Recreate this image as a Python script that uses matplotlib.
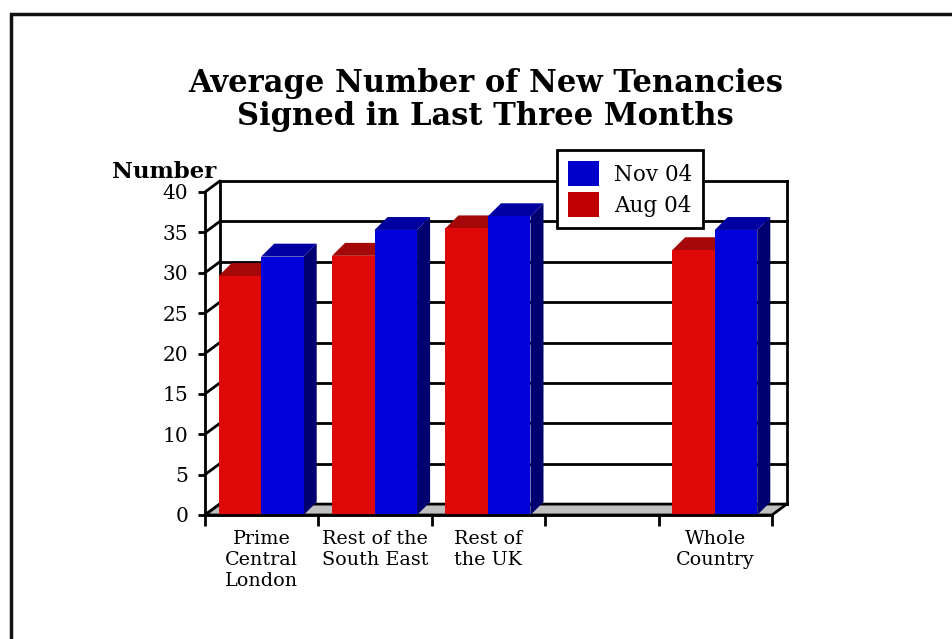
import numpy as np
import matplotlib
matplotlib.use("Agg")
import matplotlib.pyplot as plt
from matplotlib.patches import Polygon, Rectangle, Patch

categories = ["Prime\nCentral\nLondon", "Rest of the\nSouth East", "Rest of\nthe UK", "", "Whole\nCountry"]
aug_04 = [29.6, 32.1, 35.5, None, 32.8]
nov_04 = [32.0, 35.3, 37.0, None, 35.3]
series_names = ["Aug 04", "Nov 04"]
yticks = [0, 5, 10, 15, 20, 25, 30, 35, 40]

plt.rcParams['font.family'] = ['DejaVu Serif']

W, H = 952, 639
fig = plt.figure(figsize=(W / 100, H / 100), dpi=100)
ax = fig.add_axes([205 / W, 1 - 515 / H, 567 / W, 323 / H])
ax.set_xlim(0, 5)
ax.set_ylim(0, 40)

dx, dy = 0.13, 1.35     # wall depth offset, data units
bdx, bdy = 0.115, 1.6   # bar depth offset
lw = 2

# back wall gridlines and side diagonals
for v in yticks:
    ax.plot([dx, 5 + dx], [v + dy, v + dy], color='black', lw=lw, clip_on=False, zorder=1)
    ax.plot([0, dx], [v, v + dy], color='black', lw=lw, clip_on=False, zorder=1)
ax.plot([dx, dx], [dy, 40 + dy], color='black', lw=lw, clip_on=False, zorder=1)
ax.plot([5 + dx, 5 + dx], [dy, 40 + dy], color='black', lw=lw, clip_on=False, zorder=1)

# floor
ax.add_patch(Polygon([(0, 0), (5, 0), (5 + dx, dy), (dx, dy)], closed=True,
                     facecolor='#c0c0c0', edgecolor='black', lw=lw, clip_on=False, zorder=2))

# bars
face = {"Aug 04": ('#dd0808', '#a50808', '#700000'),
        "Nov 04": ('#0000d8', '#0000a0', '#000070')}
bw = 0.375
for i in range(len(categories)):
    for j, vals in enumerate([aug_04, nov_04]):
        v = vals[i]
        if v is None:
            continue
        f, t, s = face[series_names[j]]
        x0 = i + 0.12 + j * bw
        x1 = x0 + bw
        z = 3 + j
        ax.add_patch(Polygon([(x1, 0), (x1 + bdx, bdy), (x1 + bdx, v + bdy), (x1, v)],
                             closed=True, facecolor=s, edgecolor='none', clip_on=False, zorder=z))
        ax.add_patch(Polygon([(x0, v), (x1, v), (x1 + bdx, v + bdy), (x0 + bdx, v + bdy)],
                             closed=True, facecolor=t, edgecolor='none', clip_on=False, zorder=z))
        ax.add_patch(Rectangle((x0, 0), bw, v, facecolor=f, edgecolor='none',
                               clip_on=False, zorder=z))

# front axes
for side in ['top', 'right']:
    ax.spines[side].set_visible(False)
for side in ['left', 'bottom']:
    ax.spines[side].set_linewidth(lw)
    ax.spines[side].set_zorder(6)
ax.patch.set_visible(False)

ax.set_yticks(yticks)
ax.set_yticklabels([str(v) for v in yticks], fontsize=14.5)
ax.tick_params(axis='y', direction='out', length=5, width=lw, pad=7)

ax.set_xticks(np.arange(0, 6))
ax.set_xticklabels([])
ax.tick_params(axis='x', which='major', direction='out', length=8, width=lw)
ax.set_xticks(np.arange(len(categories)) + 0.5, minor=True)
ax.set_xticklabels(categories, minor=True, fontsize=13.8, linespacing=1.2, va='top')
ax.tick_params(axis='x', which='minor', length=0, pad=11)

fig.text(0.51, 1 - 100 / H, "Average Number of New Tenancies\nSigned in Last Three Months",
         ha='center', va='center', fontsize=22, fontweight='bold', linespacing=1.05)
fig.text(112 / W, 1 - 172 / H, "Number", ha='left', va='center', fontsize=16.5, fontweight='bold')

handles = [Patch(facecolor='#0000cc', edgecolor='none', label='Nov 04'),
           Patch(facecolor='#c00000', edgecolor='none', label='Aug 04')]
leg = ax.legend(handles=handles, loc='upper left', bbox_to_anchor=(557 / W, 1 - 150 / H),
                bbox_transform=fig.transFigure, borderaxespad=0, fancybox=False,
                framealpha=1, edgecolor='black', fontsize=15.5, handlelength=1.45,
                handleheight=1.45, handletextpad=0.7, labelspacing=0.25, borderpad=0.5)
leg.get_frame().set_linewidth(lw)
leg.set_zorder(10)

# outer frame
fig.add_artist(Rectangle((10.5 / W, -0.1), 1.2, 1.1 - 14.5 / H, transform=fig.transFigure,
                         fill=False, edgecolor='#111111', lw=2.5))

fig.savefig("out.png", dpi=100)
